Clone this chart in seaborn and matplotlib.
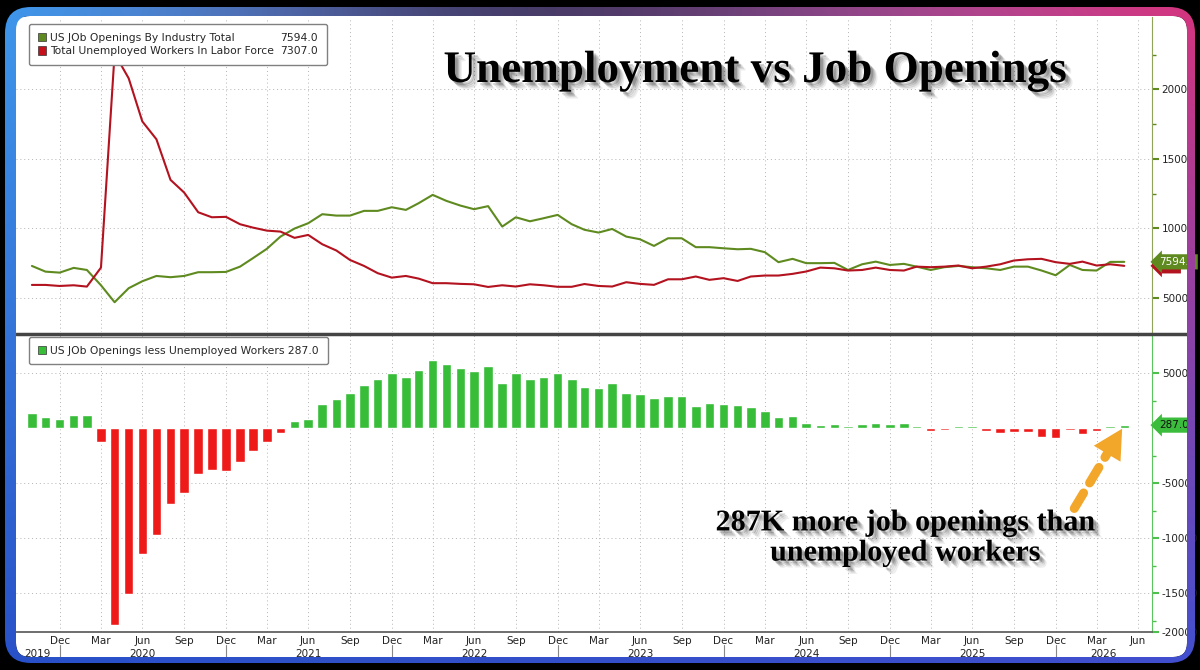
import numpy as np
import pandas as pd
import matplotlib
matplotlib.use("Agg")
import matplotlib.pyplot as plt
import matplotlib.patheffects as pe
import matplotlib.transforms as mtransforms
import matplotlib.dates as mdates
from matplotlib.patches import FancyBboxPatch, Patch, PathPatch
from matplotlib.path import Path
from matplotlib.lines import Line2D
import seaborn as sns

# monthly data (thousands), month-end Oct 2019 .. May 2026
months = pd.date_range("2019-10-31", "2026-05-31", freq="ME")

openings = [7300, 6890, 6820, 7160, 7010, 5910, 4690, 5700, 6200, 6580,
            6490, 6580, 6850, 6850, 6870, 7250, 7850, 8530, 9410, 9990,
            10370, 11020, 10920, 10920, 11260, 11260, 11520, 11330, 11810, 12410,
            11980, 11640, 11380, 11600, 10130, 10800, 10510, 10730, 10970, 10300,
            9900, 9700, 9960, 9410, 9220, 8740, 9290, 9290, 8650, 8650,
            8570, 8500, 8530, 8290, 7570, 7810, 7500, 7500, 7520, 7010,
            7420, 7610, 7370, 7450, 7250, 7010, 7210, 7300, 7210, 7130,
            7010, 7250, 7250, 6970, 6630, 7370, 7010, 6970, 7590, 7594]

unemployed = [5935, 5935, 5860, 5910, 5815, 7180, 22570, 20790, 17690, 16410,
              13490, 12580, 11160, 10800, 10830, 10300, 10060, 9840, 9770, 9320,
              9530, 8860, 8410, 7730, 7300, 6780, 6460, 6580, 6390, 6060,
              6060, 6010, 5980, 5790, 5910, 5820, 5980, 5910, 5800, 5800,
              6000, 5860, 5820, 6130, 6010, 5940, 6340, 6340, 6540, 6300,
              6420, 6220, 6540, 6610, 6610, 6730, 6900, 7180, 7130, 6970,
              7010, 7180, 7010, 6970, 7250, 7210, 7250, 7330, 7130, 7250,
              7420, 7690, 7780, 7810, 7570, 7450, 7610, 7330, 7420, 7307]

gap = [1360, 1000, 820, 1240, 1240, -1270, -17880, -15090, -11420, -9700,
       -6910, -5910, -4180, -3790, -3880, -3030, -2060, -1210, -390, 670,
       820, 2210, 2640, 3210, 3910, 4450, 5060, 4670, 5300, 6210,
       5820, 5450, 5240, 5700, 4150, 5000, 4520, 4700, 5060, 4480,
       3790, 3700, 4090, 3240, 3150, 2730, 2910, 2940, 2060, 2330,
       2180, 2150, 1940, 1580, 1030, 1090, 455, 300, 420, 200,
       360, 455, 390, 515, 220, -230, -200, 200, 220, -230,
       -390, -330, -360, -760, -910, -200, -545, -270, 240, 287]

name_open = "US JOb Openings By Industry Total"
name_unemp = "Total Unemployed Workers In Labor Force"
name_gap = "US JOb Openings less Unemployed Workers"

OLIVE = "#5e8a1f"
DARKRED = "#b3121f"
BAR_GREEN = "#37bd37"
BAR_RED = "#ee1a1a"
ORANGE = "#f2a62a"

sns.set_style("white")
plt.rcParams["font.family"] = ["DejaVu Sans"]

W_PX, H_PX = 1200, 670
fig = plt.figure(figsize=(12, 6.7), dpi=100)
fig.patch.set_facecolor("black")

# ---- background: white rounded panel
bg = fig.add_axes([0, 0, 1, 1], zorder=-5)
bg.set_xlim(0, W_PX)
bg.set_ylim(H_PX, 0)
bg.axis("off")
bg.add_patch(FancyBboxPatch((16, 16), 1171, 641, boxstyle="round,pad=0,rounding_size=14",
                            fc="white", ec="none"))

# ---- chart axes (pixel layout from the reference)
def frac(x0, y0, x1, y1):
    return [x0 / W_PX, 1 - y1 / H_PX, (x1 - x0) / W_PX, (y1 - y0) / H_PX]

ax1 = fig.add_axes(frac(16, 17, 1152, 332))
ax2 = fig.add_axes(frac(16, 335, 1152, 632), sharex=ax1)
for ax in (ax1, ax2):
    ax.set_facecolor("white")

df = pd.DataFrame({"date": months, "openings": openings, "unemployed": unemployed, "gap": gap})

sns.lineplot(data=df, x="date", y="openings", ax=ax1, color=OLIVE, lw=1.5)
sns.lineplot(data=df, x="date", y="unemployed", ax=ax1, color=DARKRED, lw=1.5)

ax2.bar(df["date"], df["gap"], width=21,
        color=[BAR_GREEN if v >= 0 else BAR_RED for v in df["gap"]], zorder=3)

# ---- x axis
ax1.set_xlim(pd.Timestamp("2019-09-26"), pd.Timestamp("2026-07-24"))
quarters = pd.date_range("2019-12-31", "2026-06-30", freq="QE-DEC")
ax2.set_xticks(quarters)
ax2.set_xticklabels([d.strftime("%b") for d in quarters])
ax2.set_xticks(pd.date_range("2019-09-30", "2026-07-31", freq="ME"), minor=True)
ax2.tick_params(axis="x", which="both", direction="in", color="#666", labelsize=7.5,
                labelcolor="#222", pad=3)
ax2.tick_params(axis="x", which="major", length=4, width=0.8)
ax2.tick_params(axis="x", which="minor", length=2.5, width=0.8)
ax1.tick_params(axis="x", which="both", bottom=False, labelbottom=False)

# year labels & separators
xmin, xmax = ax1.get_xlim()
trans2 = mtransforms.blended_transform_factory(ax2.transData, ax2.transAxes)
for yr in range(2019, 2027):
    a = max(xmin, mdates.date2num(pd.Timestamp(f"{yr-1}-12-31")))
    b = min(xmax, mdates.date2num(pd.Timestamp(f"{yr}-12-31")))
    ax2.text((a + b) / 2, -0.075, str(yr), transform=trans2, ha="center", va="center",
             fontsize=7.5, color="#222")
    if yr < 2026:
        ax2.plot([b, b], [-0.045, -0.1], transform=trans2, color="#888", lw=0.8, clip_on=False)

# ---- y axes (right side)
ax1.set_ylim(2550, 25200)
ax1.yaxis.tick_right()
ax1.set_yticks([5000, 10000, 15000, 20000])
ax1.set_yticks([7500, 12500, 17500, 22500], minor=True)
ax1.tick_params(axis="y", which="both", colors=OLIVE, labelcolor="#222", labelsize=7.5, pad=2)
ax1.tick_params(axis="y", which="major", length=5, width=1.5)
ax1.tick_params(axis="y", which="minor", length=3, width=1)

ybot = -18520
ax2.set_ylim(ybot, 8480)
ax2.yaxis.tick_right()
ax2.set_yticks([5000, -5000, -10000, -15000, ybot])
ax2.set_yticklabels(["5000", "-5000", "-10000", "-15000", "-20000"])
ax2.set_yticks([2500, -2500, -7500, -12500, -17500], minor=True)
ax2.tick_params(axis="y", which="both", colors="#4cbf4c", labelcolor="#222", labelsize=7.5, pad=2)
ax2.tick_params(axis="y", which="major", length=5, width=1.5)
ax2.tick_params(axis="y", which="minor", length=3, width=1)

for ax in (ax1, ax2):
    ax.set_xlabel("")
    ax.set_ylabel("")
    ax.grid(True, which="major", color="#b4b4b4", lw=0.7, ls=(0, (1, 3)))
    ax.set_axisbelow(True)
    ax.spines["left"].set_visible(False)
    ax.spines["top"].set_visible(False)
ax1.spines["right"].set_color("#8fa35a")
ax2.spines["right"].set_color("#5cc45c")
ax1.spines["bottom"].set_visible(False)
ax2.spines["bottom"].set_color("#555")
ax2.spines["bottom"].set_linewidth(1.2)

# panel separator
fig.add_artist(Line2D([16 / W_PX, 1187 / W_PX], [1 - 333.5 / H_PX] * 2, color="#444", lw=2.5))

# ---- last-value tags on the right axis
tr1 = mtransforms.blended_transform_factory(ax1.transAxes, ax1.transData)
tr2 = mtransforms.blended_transform_factory(ax2.transAxes, ax2.transData)
# red tag sits behind the green one, only its edge shows
ax1.text(1.006, unemployed[-1], "      ", transform=tr1, ha="left", va="center",
         fontsize=7.5, clip_on=False, zorder=6,
         bbox=dict(boxstyle="larrow,pad=0.25", fc=DARKRED, ec="none"))
ax1.text(1.006, openings[-1], f"{openings[-1]:.1f}", transform=tr1, ha="left", va="center",
         fontsize=7.5, color="white", clip_on=False, zorder=7,
         bbox=dict(boxstyle="larrow,pad=0.25", fc=OLIVE, ec="none"))
ax2.text(1.006, gap[-1], f"{gap[-1]:.1f}", transform=tr2, ha="left", va="center",
         fontsize=7.5, color="#111", clip_on=False, zorder=7,
         bbox=dict(boxstyle="larrow,pad=0.25", fc="#3cbc3c", ec="none"))

# ---- legends
leg_kw = dict(loc="upper left", borderaxespad=0, frameon=True, fancybox=True, framealpha=1,
              edgecolor="#808080", fontsize=7.75, handlelength=0.8, handleheight=0.8,
              handletextpad=0.4, borderpad=0.8, labelspacing=0.35)
blank = Patch(fc="none", ec="none")
leg1 = ax1.legend(handles=[Patch(fc=OLIVE, ec="#333", lw=0.5), Patch(fc="#c8101c", ec="#333", lw=0.5),
                           blank, blank],
                  labels=[name_open, name_unemp, f"{openings[-1]:.1f}", f"{unemployed[-1]:.1f}"],
                  ncol=2, columnspacing=-0.65, bbox_to_anchor=(0.0114, 0.978), **leg_kw)
leg1.get_frame().set_linewidth(1)
leg2 = ax2.legend(handles=[Patch(fc=BAR_GREEN, ec="#333", lw=0.5)],
                  labels=[f"{name_gap} {gap[-1]:.1f}"],
                  bbox_to_anchor=(0.0114, 0.993), **leg_kw)
leg2.get_frame().set_linewidth(1)

# ---- title and annotation
def shadow():
    return [pe.SimplePatchShadow(offset=(o, -o), shadow_rgbFace="black", alpha=a)
            for o, a in [(5, 0.07), (4, 0.1), (3, 0.14), (2, 0.18)]] + [pe.Normal()]

fig.text(755 / W_PX, 1 - 82 / H_PX, "Unemployment vs Job Openings", ha="center", va="baseline",
         family="Liberation Serif", weight="bold", size=32.5, color="black", path_effects=shadow())
fig.text(905 / W_PX, 1 - 538 / H_PX, "287K more job openings than\nunemployed workers",
         ha="center", va="center", multialignment="center", linespacing=1.15,
         family="Liberation Serif", weight="bold", size=21.7, color="black", path_effects=shadow())

ax2.annotate("", xy=(months[-1], gap[-1]), xytext=(-36, -60), textcoords="offset points",
             arrowprops=dict(arrowstyle="-", color=ORANGE, lw=6.5, ls=(0, (2, 1.3)),
                             shrinkA=0, shrinkB=18), annotation_clip=False, zorder=8)
ax2.annotate("", xy=(months[-1], gap[-1]), xytext=(-10, -16.7), textcoords="offset points",
             arrowprops=dict(arrowstyle="-|>,head_length=1.5,head_width=0.8", color=ORANGE, lw=0,
                             shrinkA=0, shrinkB=3, mutation_scale=14),
             annotation_clip=False, zorder=8)

# ---- gradient bezel around the panel
ov = fig.add_axes([0, 0, 1, 1], zorder=10)
ov.set_xlim(0, W_PX)
ov.set_ylim(H_PX, 0)
ov.axis("off")
ov.patch.set_alpha(0)

outer = FancyBboxPatch((5, 7), 1190, 656, boxstyle="round,pad=0,rounding_size=26")
inner = FancyBboxPatch((16, 16), 1171, 641, boxstyle="round,pad=0,rounding_size=14")
po = outer.get_path().to_polygons()[0]
pi = inner.get_path().to_polygons()[0][::-1]
codes = ([Path.MOVETO] + [Path.LINETO] * (len(po) - 1) +
         [Path.MOVETO] + [Path.LINETO] * (len(pi) - 1))
ring = PathPatch(Path(np.concatenate([po, pi]), codes), transform=ov.transData)

tl = np.array(matplotlib.colors.to_rgb("#3f9bf0"))
tr = np.array(matplotlib.colors.to_rgb("#d8347e"))
bl = np.array(matplotlib.colors.to_rgb("#2850c8"))
br = np.array(matplotlib.colors.to_rgb("#4050d0"))
u = np.linspace(0, 1, W_PX)[None, :, None]
v = np.linspace(0, 1, H_PX)[:, None, None]
grad = (1 - u) * (1 - v) * tl + u * (1 - v) * tr + (1 - u) * v * bl + u * v * br
# darker navy along the top edge middle
dark = 1 - 0.45 * np.exp(-((u - 0.45) / 0.25) ** 2) * (1 - v)
grad = np.clip(grad * dark, 0, 1)
im = ov.imshow(grad, extent=(0, W_PX, H_PX, 0), aspect="auto", interpolation="bilinear")
im.set_clip_path(ring)
ov.set_xlim(0, W_PX)
ov.set_ylim(H_PX, 0)

fig.savefig("out.png", dpi=100, facecolor=fig.get_facecolor())
